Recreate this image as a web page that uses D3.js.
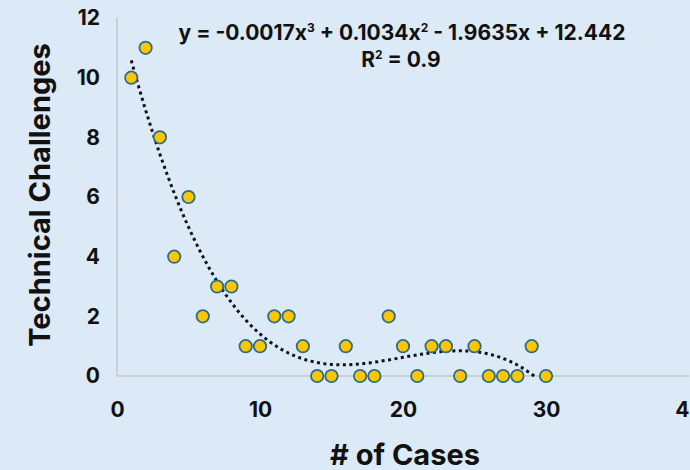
<!DOCTYPE html>
<html><head><meta charset="utf-8">
<script src="https://cdn.jsdelivr.net/npm/d3@7"></script>
<style>html,body{margin:0;padding:0;background:#dce9f6;}svg{display:block;}</style>
</head><body>
<svg id="c" width="690" height="470"></svg>
<script>
const cases = [1,2,3,4,5,6,7,8,9,10,11,12,13,14,15,16,17,18,19,20,21,22,23,24,25,26,27,28,29,30];
const challenges = [10,11,8,4,6,2,3,3,1,1,2,2,1,0,0,1,0,0,2,1,0,1,1,0,1,0,0,0,1,0];
const xTicks = [0,10,20,30,40];
const yTicks = [0,2,4,6,8,10,12];

const svg = d3.select("#c");
svg.append("rect").attr("width",690).attr("height",470).attr("fill","#dce9f6");
const x = d3.scaleLinear().domain([0,40]).range([117,689]);
const y = d3.scaleLinear().domain([0,12]).range([376,18]);
const font = "Inter, 'Liberation Sans', Arial, sans-serif";

svg.append("line").attr("x1",x(0)).attr("x2",x(40)).attr("y1",y(0)).attr("y2",y(0)).attr("stroke","#c3c7cc").attr("stroke-width",1.5);
svg.append("line").attr("x1",x(0)).attr("x2",x(0)).attr("y1",y(0)).attr("y2",y(12)).attr("stroke","#c3c7cc").attr("stroke-width",1.5);

const xa = svg.append("g").attr("transform",`translate(0,${y(0)})`)
  .call(d3.axisBottom(x).tickValues(xTicks).tickSize(0).tickPadding(26));
xa.select(".domain").remove();
xa.selectAll("text").attr("font-family",font).attr("font-weight","bold").attr("font-size",21).attr("fill","#111");
const ya = svg.append("g").attr("transform",`translate(${x(0)},0)`)
  .call(d3.axisLeft(y).tickValues(yTicks).tickSize(0).tickPadding(17));
ya.select(".domain").remove();
ya.selectAll("text").attr("font-family",font).attr("font-weight","bold").attr("font-size",21).attr("fill","#111");

function fit(xs, ys, deg){
  const n=deg+1, A=[...Array(n)].map(()=>Array(n+1).fill(0));
  xs.forEach((xv,k)=>{for(let i=0;i<n;i++){for(let j=0;j<n;j++)A[i][j]+=Math.pow(xv,i+j);A[i][n]+=ys[k]*Math.pow(xv,i);}});
  for(let i=0;i<n;i++){let p=i;for(let r=i+1;r<n;r++)if(Math.abs(A[r][i])>Math.abs(A[p][i]))p=r;[A[i],A[p]]=[A[p],A[i]];
    for(let r=0;r<n;r++){if(r===i)continue;const f=A[r][i]/A[i][i];for(let c=i;c<=n;c++)A[r][c]-=f*A[i][c];}}
  return A.map((row,i)=>row[n]/row[i]);
}
const co = fit(cases, challenges, 3);
const poly = t => co[0]+co[1]*t+co[2]*t*t+co[3]*t*t*t;
const xs = d3.range(1, 29.5, 0.25);
svg.append("path").datum(xs)
  .attr("d", d3.line().x(d=>x(d)).y(d=>y(poly(d))))
  .attr("fill","none").attr("stroke","#111").attr("stroke-width",3).attr("stroke-dasharray","3 3.5");

svg.append("g").selectAll("circle").data(cases).join("circle")
  .attr("cx",(d)=>x(d)).attr("cy",(d,i)=>y(challenges[i])).attr("r",6.2)
  .attr("fill","#ffc600").attr("stroke","#2a6d8c").attr("stroke-width",1.8);

const eq = svg.append("text").attr("x",402).attr("y",40).attr("text-anchor","middle")
  .attr("font-family",font).attr("font-weight","bold").attr("font-size",21).attr("fill","#111");
eq.append("tspan").text("y = -0.0017x");
eq.append("tspan").text("3").attr("font-size",12).attr("dy",-8);
eq.append("tspan").text(" + 0.1034x").attr("dy",8);
eq.append("tspan").text("2").attr("font-size",12).attr("dy",-8);
eq.append("tspan").text(" - 1.9635x + 12.442").attr("dy",8);
const r2 = svg.append("text").attr("x",401).attr("y",67).attr("text-anchor","middle")
  .attr("font-family",font).attr("font-weight","bold").attr("font-size",21).attr("fill","#111");
r2.append("tspan").text("R");
r2.append("tspan").text("2").attr("font-size",12).attr("dy",-8);
r2.append("tspan").text(" = 0.9").attr("dy",8);

svg.append("text").attr("transform",`translate(50,195) rotate(-90)`).attr("text-anchor","middle")
  .attr("font-family",font).attr("font-weight","bold").attr("font-size",29).attr("fill","#111").text("Technical Challenges");
svg.append("text").attr("x",405).attr("y",465).attr("text-anchor","middle")
  .attr("font-family",font).attr("font-weight","bold").attr("font-size",29).attr("fill","#111").text("# of Cases");
</script>
</body></html>
